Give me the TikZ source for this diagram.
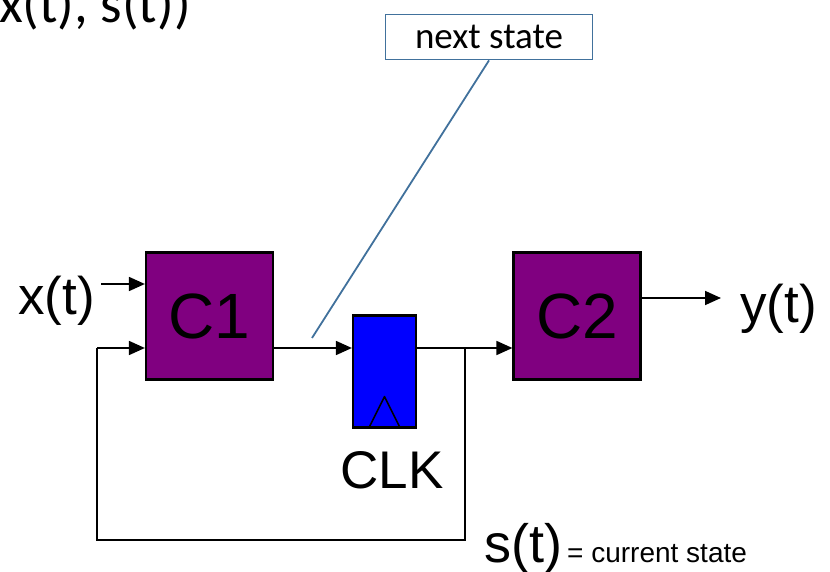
\documentclass[tikz,border=0pt]{standalone}
\usepackage{fontspec}
\setmainfont{Liberation Sans}
\newfontfamily\calib{Carlito}
\usetikzlibrary{arrows.meta}
\definecolor{blockpurple}{HTML}{800080}
\definecolor{ffblue}{HTML}{0000FF}
\definecolor{calloutblue}{HTML}{41719C}
\begin{document}
\begin{tikzpicture}[x=1pt,y=-1pt,
  wire/.style={line width=1.8pt},
  arr/.style={wire,-{Triangle[length=16pt,width=14pt]}},
  comb/.style={draw=black,line width=2.2pt,fill=blockpurple,minimum width=127pt,minimum height=127pt,inner sep=0pt,font=\fontsize{64}{64}\selectfont},
  reg/.style={draw=black,line width=2.2pt,fill=ffblue,minimum width=63pt,minimum height=112pt,inner sep=0pt},
  lbl/.style={inner sep=0pt,font=\fontsize{53}{53}\selectfont}]
\useasboundingbox (0,0) rectangle (830,572);

% truncated equation at the top edge
\node[anchor=base east,inner sep=0pt,font=\calib\fontsize{55}{55}\selectfont] (eq) at (191,23) {x(t), s(t))};

% combinational blocks and state register
\node[comb] (c1) at (209.5,316) {C1};
\node[comb] (c2) at (577,316) {C2};
\node[reg] (ff) at (384.5,371.5) {};
\draw[line width=1.6pt,line join=round] ([xshift=-16pt]ff.south) -- ([yshift=32pt]ff.south) -- ([xshift=16pt]ff.south);

% labels
\node[lbl,anchor=base east] (x) at (95,314) {x(t)};
\node[lbl,anchor=base west] (y) at (740,322) {y(t)};
\node[inner sep=0pt,anchor=base,font=\fontsize{53}{53}\selectfont] (clk) at (392,488) {CLK};
\node[inner sep=0pt,anchor=base west,font=\fontsize{54}{54}\selectfont] (s) at (484,562) {s(t)};
\node[inner sep=0pt,anchor=base west,font=\fontsize{28}{28}\selectfont] (cs) at (567,562) {= current state};

% coordinates along the wires
\coordinate (xin) at (101,284);
\coordinate (j) at (465,348);
\coordinate (b1) at (465,540);
\coordinate (b2) at (97,540);
\coordinate (b3) at (97,348);
\coordinate (yout) at (721,298);
\coordinate (ns) at (312,338);

% connectors
\draw[arr] (xin) -- (xin -| c1.west);
\draw[arr] (c1.east |- 0,348) -- (ff.west |- 0,348);
\draw[arr] (ff.east |- 0,348) -- (c2.west |- 0,348);
\draw[wire] (j) -- (b1) -- (b2) -- (b3);
\draw[arr] (b3) -- (b3 -| c1.west);
\draw[arr] (c2.east |- yout) -- (yout);

% callout
\node[draw=calloutblue,line width=1.8pt,fill=white,minimum width=207pt,minimum height=45pt,inner sep=0pt,font=\calib\fontsize{37}{37}\selectfont] (next) at (489,37) {next state};
\draw[calloutblue,line width=1.8pt] (next.south) -- (ns);
\end{tikzpicture}
\end{document}
